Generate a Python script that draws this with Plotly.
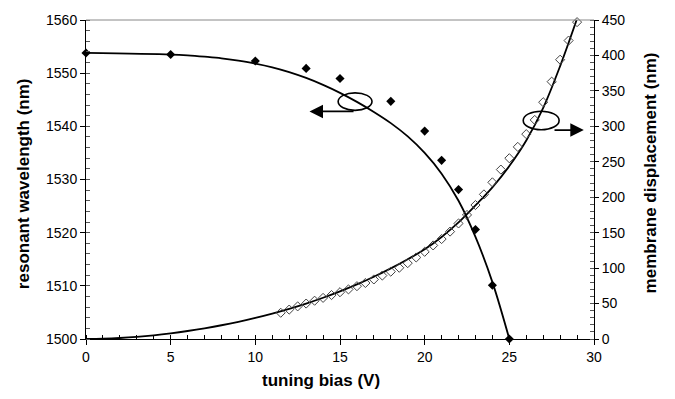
import plotly.graph_objects as go

# measured resonant wavelength (filled diamonds)
bias_wl = [0, 5, 10, 13, 15, 18, 20, 21, 22, 23, 24, 25]
wl_meas = [1553.8, 1553.5, 1552.3, 1550.9, 1549.0, 1544.7, 1539.1, 1533.6, 1528.1, 1520.6, 1510.1, 1500.0]

# model curve for wavelength
bias_wl_fit = [0, 5, 6, 7, 8, 9, 10, 11, 12, 13, 14, 15, 16, 17, 18, 19, 20, 21, 22, 23, 24, 25]
wl_fit = [1553.8, 1553.5, 1553.35, 1553.1, 1552.8, 1552.35, 1551.8, 1551.1, 1550.2, 1549.1,
          1547.8, 1546.3, 1544.6, 1542.7, 1540.6, 1538.1, 1535.0, 1531.1, 1526.0, 1519.2,
          1510.7, 1500.0]

# measured membrane displacement (open diamonds)
bias_disp = [11.5, 12, 12.5, 13, 13.5, 14, 14.5, 15, 15.5, 16, 16.5, 17, 17.5, 18, 18.5, 19,
             19.5, 20, 20.5, 21, 21.5, 22, 22.5, 23, 23.5, 24, 24.5, 25, 25.5, 26, 26.5, 27,
             27.5, 28, 28.5, 29]
disp_meas = [37, 41.5, 46, 50, 54, 58, 62, 66, 70, 74.5, 79, 84, 89.5, 95, 100.5, 107,
             115, 123, 132, 141, 151.5, 163, 175, 189, 204, 221, 239, 255, 271, 289, 309, 334,
             363, 394, 421, 447]

# model curve for displacement
bias_disp_fit = [0, 1, 2, 3, 4, 5, 6, 7, 8, 9, 10, 11, 12, 13, 14, 15, 16, 17, 18, 19, 20,
                 21, 22, 23, 24, 25, 26, 27, 28, 29]
disp_fit = [0, 0.4, 1.4, 3.0, 5.2, 8.0, 11.3, 15.1, 19.4, 24.3, 29.8, 35.9, 42.6, 50.0, 58.2,
            67.2, 77.0, 87.8, 99.6, 112.5, 126.5, 144.0, 164.5, 188.5, 214.0, 244.0, 280.0,
            326.0, 385.0, 452.0]

x_ticks = [0, 5, 10, 15, 20, 25, 30]

FONT = "Liberation Sans, Arial, sans-serif"

fig = go.Figure()
fig.add_trace(go.Scatter(x=bias_wl_fit, y=wl_fit, mode="lines",
                         line=dict(color="black", width=1.8, shape="spline", smoothing=1.0),
                         cliponaxis=False, hoverinfo="skip", showlegend=False))
fig.add_trace(go.Scatter(x=bias_disp_fit, y=disp_fit, mode="lines", yaxis="y2",
                         line=dict(color="black", width=1.8, shape="spline", smoothing=1.0),
                         cliponaxis=True, hoverinfo="skip", showlegend=False))
fig.add_trace(go.Scatter(x=bias_disp, y=disp_meas, mode="markers", yaxis="y2",
                         marker=dict(symbol="diamond-open", size=7, color="#444",
                                     line=dict(width=1, color="#444")),
                         cliponaxis=False, showlegend=False))
fig.add_trace(go.Scatter(x=bias_wl, y=wl_meas, mode="markers",
                         marker=dict(symbol="diamond", size=7, color="black"),
                         cliponaxis=False, showlegend=False))

fig.update_layout(
    width=675, height=399,
    margin=dict(l=86, r=81, t=13, b=60),
    paper_bgcolor="white", plot_bgcolor="white",
    font=dict(family=FONT, size=14, color="black"),
    xaxis=dict(range=[0, 30], tickvals=x_ticks, showgrid=False, zeroline=False,
               showline=True, linecolor="black", linewidth=1,
               ticks="outside", ticklen=5, tickcolor="black",
               minor=dict(ticks="inside", ticklen=4, dtick=1, tickcolor="black"),
               tickfont=dict(size=14, family=FONT)),
    yaxis=dict(range=[1500, 1560], dtick=10, showgrid=False, zeroline=False,
               showline=True, linecolor="black", linewidth=1,
               ticks="outside", ticklen=5, tickcolor="black",
               minor=dict(ticks="inside", ticklen=4, dtick=2, tickcolor="#555"),
               tickfont=dict(size=14, family=FONT)),
    yaxis2=dict(range=[0, 450], dtick=50, overlaying="y", side="right",
                showgrid=False, zeroline=False,
                showline=True, linecolor="black", linewidth=1,
                ticks="outside", ticklen=4, tickcolor="black",
                minor=dict(ticks="inside", ticklen=4, dtick=10, tickcolor="#555"),
                tickfont=dict(size=14, family=FONT)),
    shapes=[
        dict(type="line", xref="paper", yref="paper", x0=0, x1=1, y0=1, y1=1,
             line=dict(color="#888", width=1)),
        dict(type="circle", xref="x", yref="y", x0=14.89, x1=16.89, y0=1543.0, y1=1546.3,
             line=dict(color="black", width=1.6)),
        dict(type="circle", xref="x", yref="y", x0=25.82, x1=27.94, y0=1539.35, y1=1542.85,
             line=dict(color="black", width=1.6)),
    ],
    annotations=[
        dict(x=13.2, y=1542.8, ax=15.89, ay=1542.8, xref="x", yref="y", axref="x", ayref="y",
             text="", showarrow=True, arrowhead=2, arrowsize=1.5, arrowwidth=1.8,
             arrowcolor="black"),
        dict(x=29.4, y=1539.3, ax=27.58, ay=1539.3, xref="x", yref="y", axref="x", ayref="y",
             text="", showarrow=True, arrowhead=2, arrowsize=1.5, arrowwidth=1.8,
             arrowcolor="black"),
        dict(text="<b>tuning bias (V)</b>", xref="paper", yref="paper",
             x=(321 - 86) / 508, y=(339.5 - 381.7) / 326.5, xanchor="center", yanchor="middle",
             showarrow=False, font=dict(size=17, family=FONT)),
        dict(text="<b>resonant wavelength (nm)</b>", xref="paper", yref="paper",
             x=(23 - 86) / 508, y=(339.5 - 181) / 326.5, xanchor="center", yanchor="middle",
             textangle=-90, showarrow=False, font=dict(size=17, family=FONT)),
        dict(text="<b>membrane displacement (nm)</b>", xref="paper", yref="paper",
             x=(650 - 86) / 508, y=(339.5 - 170) / 326.5, xanchor="center", yanchor="middle",
             textangle=-90, showarrow=False, font=dict(size=17, family=FONT)),
    ],
)

fig.write_html("out.html")
